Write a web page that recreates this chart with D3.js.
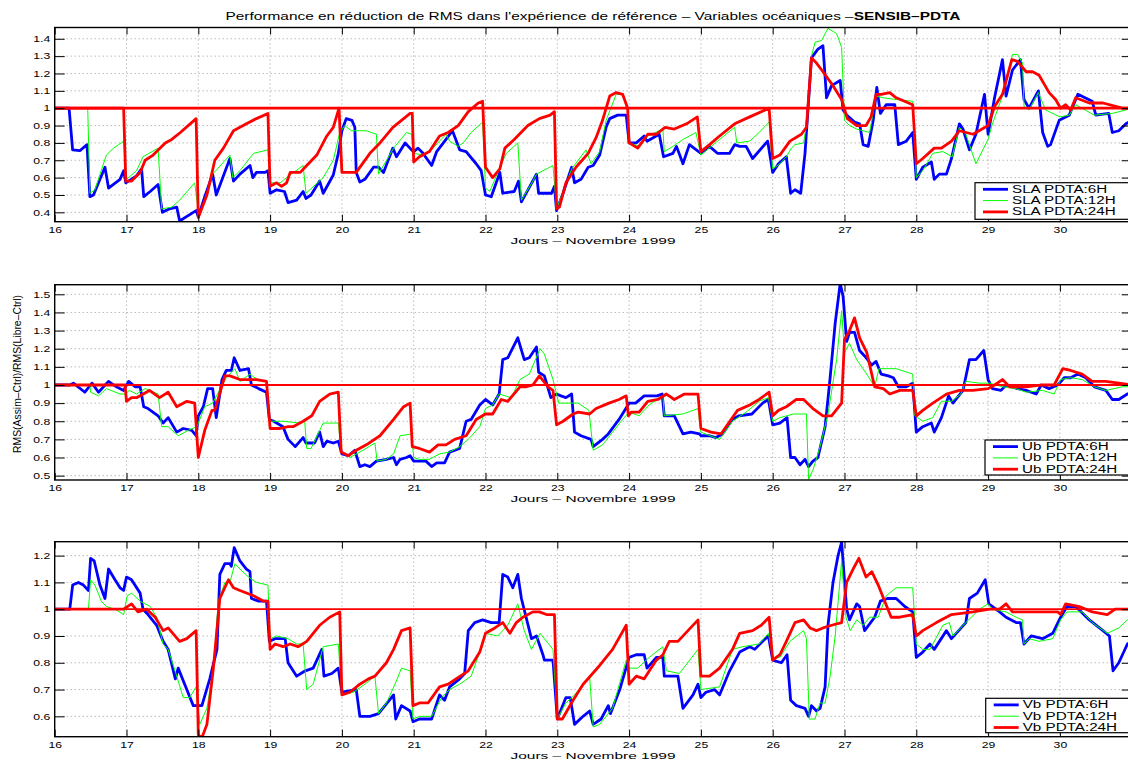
<!DOCTYPE html>
<html>
<head>
<meta charset="utf-8">
<script src="https://cdn.jsdelivr.net/npm/d3@7"></script>
<style>
  body { margin: 0; background: #fff; }
  svg { display: block; }
  text { font-family: "Liberation Sans", Arial, sans-serif; fill: #000; }
</style>
</head>
<body>
<svg id="chart"></svg>
<script>
// ---- data: [day of November 1999, RMS ratio] ----
const dayTicks = d3.range(16, 31);
const horizons = ["6H", "12H", "24H"];
const refLevel = 1;

const slaH6 = [[16,1],[16.2,1],[16.25,0.76],[16.35,0.755],[16.45,0.79],[16.49,0.49],[16.54,0.5],[16.7,0.66],[16.75,0.54],[16.91,0.59],[16.96,0.64],[16.99,0.57],[17.14,0.61],[17.21,0.65],[17.24,0.49],[17.33,0.52],[17.44,0.56],[17.5,0.4],[17.6,0.42],[17.7,0.43],[17.74,0.35],[17.93,0.4],[17.97,0.41],[18,0.375],[18.09,0.49],[18.2,0.62],[18.25,0.5],[18.44,0.71],[18.49,0.58],[18.58,0.62],[18.72,0.67],[18.76,0.6],[18.81,0.63],[18.93,0.63],[18.97,0.64],[19,0.51],[19.09,0.53],[19.2,0.52],[19.25,0.456],[19.37,0.47],[19.46,0.52],[19.5,0.48],[19.57,0.5],[19.69,0.58],[19.74,0.51],[19.88,0.615],[19.95,0.74],[20,0.87],[20.06,0.94],[20.14,0.93],[20.18,0.89],[20.2,0.63],[20.25,0.575],[20.32,0.59],[20.44,0.66],[20.51,0.66],[20.58,0.63],[20.71,0.77],[20.76,0.72],[20.88,0.8],[20.97,0.76],[21,0.75],[21.06,0.77],[21.13,0.74],[21.25,0.67],[21.32,0.75],[21.45,0.82],[21.54,0.87],[21.64,0.76],[21.73,0.75],[21.87,0.68],[21.94,0.64],[22,0.5],[22.08,0.49],[22.2,0.63],[22.24,0.51],[22.4,0.52],[22.46,0.58],[22.5,0.46],[22.71,0.62],[22.74,0.51],[22.92,0.51],[22.96,0.55],[22.99,0.41],[23.08,0.51],[23.2,0.66],[23.24,0.57],[23.33,0.59],[23.43,0.66],[23.5,0.67],[23.59,0.73],[23.68,0.89],[23.73,0.94],[23.84,0.96],[23.96,0.96],[24,0.8],[24.1,0.8],[24.21,0.84],[24.25,0.81],[24.42,0.85],[24.48,0.72],[24.61,0.74],[24.66,0.78],[24.75,0.68],[24.84,0.79],[25,0.74],[25.12,0.78],[25.23,0.74],[25.4,0.74],[25.47,0.79],[25.54,0.78],[25.63,0.78],[25.72,0.71],[25.93,0.81],[26,0.63],[26.08,0.68],[26.19,0.72],[26.25,0.51],[26.31,0.53],[26.39,0.51],[26.45,0.74],[26.54,1.29],[26.63,1.34],[26.7,1.36],[26.75,1.06],[26.82,1.13],[26.94,1.16],[26.98,0.99],[27.03,0.96],[27.14,0.92],[27.21,0.91],[27.26,0.79],[27.33,0.78],[27.4,0.93],[27.45,1.12],[27.5,0.97],[27.58,1.02],[27.7,1.02],[27.75,0.79],[27.86,0.81],[27.95,0.86],[28,0.59],[28.09,0.66],[28.21,0.69],[28.25,0.59],[28.32,0.62],[28.42,0.62],[28.49,0.71],[28.6,0.91],[28.65,0.88],[28.74,0.76],[28.83,0.85],[28.95,1.08],[29,0.85],[29.09,1.06],[29.2,1.28],[29.25,1.07],[29.34,1.22],[29.45,1.28],[29.5,1.05],[29.57,1],[29.7,1.1],[29.76,0.86],[29.83,0.78],[29.87,0.79],[29.99,0.93],[30.13,0.96],[30.25,1.08],[30.45,1.04],[30.5,0.96],[30.68,0.97],[30.73,0.86],[30.82,0.87],[30.92,0.91],[31,0.93]];
const slaH12 = [[16,1],[16.46,1],[16.49,0.51],[16.56,0.53],[16.72,0.73],[16.82,0.77],[16.96,0.81],[17,0.59],[17.14,0.64],[17.23,0.72],[17.44,0.77],[17.49,0.42],[17.63,0.43],[17.74,0.47],[17.95,0.57],[18.01,0.375],[18.2,0.62],[18.44,0.73],[18.48,0.6],[18.58,0.64],[18.77,0.74],[18.97,0.76],[19,0.57],[19.14,0.57],[19.23,0.6],[19.46,0.67],[19.5,0.51],[19.74,0.6],[19.88,0.7],[19.97,0.86],[20.04,0.9],[20.13,0.87],[20.34,0.87],[20.48,0.85],[20.51,0.62],[20.72,0.77],[20.9,0.86],[20.97,0.85],[21,0.74],[21.13,0.73],[21.27,0.77],[21.45,0.85],[21.5,0.81],[21.62,0.78],[21.69,0.8],[21.8,0.86],[21.96,0.92],[22,0.54],[22.06,0.52],[22.2,0.66],[22.29,0.74],[22.45,0.8],[22.5,0.47],[22.66,0.58],[22.71,0.62],[22.94,0.67],[22.99,0.42],[23.2,0.65],[23.4,0.76],[23.47,0.68],[23.59,0.75],[23.68,0.93],[23.82,1.08],[23.91,1.08],[23.98,1],[24,0.8],[24.15,0.78],[24.26,0.84],[24.47,0.88],[24.49,0.75],[24.61,0.78],[24.75,0.82],[24.93,0.86],[25,0.73],[25.26,0.82],[25.47,0.89],[25.5,0.8],[25.68,0.81],[25.81,0.86],[25.95,0.92],[26,0.65],[26.1,0.68],[26.19,0.72],[26.26,0.77],[26.31,0.79],[26.43,0.8],[26.47,0.9],[26.54,1.3],[26.59,1.38],[26.68,1.39],[26.77,1.46],[26.89,1.43],[26.96,1.35],[27,0.93],[27.07,0.9],[27.17,0.88],[27.26,0.87],[27.35,0.86],[27.44,1.07],[27.54,1.06],[27.72,1.05],[27.95,1.04],[28,0.6],[28.09,0.64],[28.23,0.74],[28.37,0.75],[28.5,0.72],[28.6,0.89],[28.69,0.85],[28.83,0.68],[29,0.82],[29.06,0.91],[29.2,1.07],[29.34,1.31],[29.41,1.31],[29.48,1.26],[29.5,1.01],[29.57,0.99],[29.7,1.09],[29.8,0.99],[30,0.95],[30.13,0.96],[30.22,1.02],[30.48,0.96],[30.73,0.97],[30.92,0.99],[31,1]];
const slaH24 = [[16,1],[16.96,1],[16.99,0.58],[17.07,0.58],[17.19,0.63],[17.26,0.7],[17.37,0.73],[17.54,0.8],[17.63,0.82],[17.75,0.86],[17.97,0.94],[18,0.37],[18.12,0.5],[18.23,0.7],[18.35,0.77],[18.49,0.87],[18.67,0.91],[18.81,0.94],[18.97,0.97],[19,0.55],[19.09,0.57],[19.16,0.55],[19.23,0.57],[19.28,0.63],[19.42,0.63],[19.51,0.67],[19.65,0.73],[19.79,0.84],[19.88,0.89],[19.96,1],[20,0.63],[20.07,0.63],[20.2,0.63],[20.39,0.74],[20.53,0.8],[20.71,0.89],[20.95,0.97],[20.98,0.97],[21,0.69],[21.08,0.72],[21.22,0.75],[21.36,0.84],[21.48,0.86],[21.62,0.9],[21.76,0.98],[21.9,1.03],[21.96,1.04],[22,0.66],[22.1,0.6],[22.2,0.65],[22.27,0.77],[22.4,0.82],[22.59,0.9],[22.75,0.94],[22.9,0.96],[22.96,0.98],[22.99,0.42],[23.03,0.43],[23.12,0.57],[23.26,0.66],[23.43,0.74],[23.54,0.83],[23.63,0.93],[23.73,1.07],[23.82,1.09],[23.91,1.08],[23.98,1],[24,0.8],[24.12,0.77],[24.26,0.85],[24.38,0.85],[24.5,0.89],[24.63,0.88],[24.8,0.91],[24.95,0.95],[25,0.75],[25.12,0.79],[25.26,0.84],[25.47,0.91],[25.68,0.95],[25.95,1],[26,0.71],[26.1,0.73],[26.24,0.81],[26.4,0.85],[26.47,0.89],[26.54,1.29],[26.61,1.26],[26.7,1.21],[26.84,1.13],[26.96,1.05],[27.04,0.94],[27.17,0.9],[27.3,0.9],[27.37,0.95],[27.44,1.08],[27.51,1.08],[27.63,1.09],[27.72,1.06],[27.95,1.02],[28,0.68],[28.09,0.71],[28.25,0.77],[28.35,0.77],[28.49,0.81],[28.6,0.87],[28.79,0.85],[29,0.9],[29.09,1.01],[29.2,1.08],[29.33,1.28],[29.41,1.27],[29.53,1.21],[29.62,1.21],[29.71,1.19],[29.85,1.09],[29.94,1.05],[30.01,1],[30.08,1.02],[30.15,0.99],[30.22,1.06],[30.41,1.03],[30.6,1.03],[30.87,1],[31,1]];

const ubH6 = [[16,1],[16.21,1],[16.26,1.01],[16.42,0.96],[16.52,1.01],[16.61,0.96],[16.75,1.02],[16.86,0.99],[16.96,0.97],[17.03,1.02],[17.12,0.99],[17.19,0.99],[17.24,0.88],[17.3,0.87],[17.44,0.83],[17.51,0.79],[17.58,0.82],[17.7,0.74],[17.79,0.76],[17.91,0.75],[17.97,0.72],[18,0.83],[18.07,0.88],[18.13,0.98],[18.2,0.98],[18.25,0.82],[18.33,1.03],[18.39,1.08],[18.46,1.08],[18.5,1.15],[18.58,1.08],[18.7,1.09],[18.74,1],[18.84,0.98],[18.95,0.96],[18.99,0.81],[19.05,0.8],[19.18,0.77],[19.25,0.7],[19.35,0.66],[19.46,0.71],[19.5,0.68],[19.62,0.68],[19.69,0.74],[19.74,0.66],[19.79,0.69],[19.88,0.68],[19.95,0.69],[20,0.62],[20.09,0.61],[20.18,0.64],[20.25,0.55],[20.32,0.56],[20.39,0.55],[20.48,0.58],[20.62,0.59],[20.72,0.6],[20.76,0.56],[20.81,0.59],[20.9,0.6],[20.95,0.61],[21,0.58],[21.08,0.58],[21.17,0.58],[21.25,0.55],[21.32,0.57],[21.43,0.57],[21.5,0.63],[21.64,0.65],[21.73,0.8],[21.8,0.81],[21.92,0.89],[22,0.92],[22.1,0.89],[22.19,0.95],[22.24,1.14],[22.31,1.15],[22.45,1.26],[22.54,1.14],[22.61,1.15],[22.71,1.21],[22.74,1.07],[22.82,1.05],[22.91,0.93],[22.99,0.95],[23.05,0.94],[23.12,0.93],[23.2,0.95],[23.24,0.74],[23.33,0.72],[23.47,0.7],[23.5,0.66],[23.63,0.7],[23.71,0.73],[23.86,0.81],[23.97,0.88],[24,0.9],[24.09,0.9],[24.21,0.94],[24.3,0.94],[24.39,0.94],[24.46,0.95],[24.49,0.83],[24.63,0.83],[24.75,0.73],[24.86,0.74],[24.98,0.73],[25,0.72],[25.12,0.72],[25.21,0.71],[25.3,0.73],[25.44,0.81],[25.53,0.83],[25.71,0.84],[25.86,0.9],[25.94,0.92],[26,0.78],[26.1,0.79],[26.2,0.82],[26.25,0.6],[26.31,0.6],[26.38,0.56],[26.45,0.59],[26.5,0.55],[26.56,0.58],[26.63,0.6],[26.73,0.77],[26.8,1.04],[26.87,1.34],[26.94,1.56],[26.98,1.49],[27.03,1.24],[27.07,1.29],[27.14,1.29],[27.21,1.19],[27.28,1.16],[27.38,1.11],[27.44,1.13],[27.51,1.06],[27.61,1.05],[27.68,1.04],[27.75,0.99],[27.86,0.99],[27.95,1.01],[28,0.74],[28.09,0.77],[28.21,0.79],[28.25,0.74],[28.35,0.82],[28.45,0.94],[28.51,0.9],[28.65,0.97],[28.74,1.14],[28.83,1.14],[28.94,1.19],[29,1.03],[29.06,0.98],[29.18,0.97],[29.25,1],[29.41,0.98],[29.53,0.97],[29.67,0.95],[29.74,1],[29.85,0.98],[29.97,1],[30.06,1.04],[30.15,1.04],[30.25,1.06],[30.36,1.04],[30.48,0.99],[30.64,0.97],[30.73,0.92],[30.82,0.92],[30.94,0.95],[31,0.96]];
const ubH12 = [[16,1],[16.49,1],[16.5,0.96],[16.61,0.94],[16.72,0.98],[16.91,0.95],[16.98,0.95],[17.04,0.97],[17.14,0.95],[17.26,0.98],[17.44,0.95],[17.49,0.77],[17.58,0.77],[17.72,0.72],[17.86,0.75],[17.98,0.77],[18.09,0.88],[18.2,0.9],[18.28,0.96],[18.39,1.04],[18.51,1.09],[18.58,1.02],[18.72,1.06],[18.82,1.03],[18.95,1.02],[19,0.8],[19.18,0.8],[19.41,0.79],[19.48,0.81],[19.51,0.65],[19.57,0.65],[19.74,0.79],[19.95,0.79],[19.99,0.63],[20.11,0.6],[20.25,0.63],[20.46,0.68],[20.49,0.58],[20.62,0.59],[20.72,0.62],[20.81,0.72],[20.97,0.73],[21,0.6],[21.08,0.59],[21.22,0.59],[21.36,0.62],[21.5,0.63],[21.64,0.66],[21.76,0.7],[21.92,0.77],[22,0.87],[22.1,0.89],[22.19,0.95],[22.36,0.93],[22.48,1.03],[22.61,1.06],[22.76,1.2],[22.82,1.17],[22.94,1.03],[23.02,0.9],[23.12,0.9],[23.29,0.9],[23.44,0.86],[23.5,0.64],[23.63,0.67],[23.77,0.74],[23.91,0.81],[24,0.85],[24.14,0.83],[24.28,0.89],[24.47,0.94],[24.49,0.83],[24.75,0.84],[24.96,0.87],[25,0.74],[25.26,0.7],[25.44,0.8],[25.63,0.85],[25.81,0.91],[25.94,0.93],[26,0.8],[26.1,0.82],[26.29,0.84],[26.47,0.84],[26.5,0.48],[26.56,0.53],[26.66,0.66],[26.77,0.84],[26.89,1.14],[26.96,1.41],[27,1.18],[27.07,1.23],[27.17,1.14],[27.31,1.06],[27.42,0.99],[27.48,1.09],[27.58,1.09],[27.72,1.09],[27.95,1.06],[27.98,0.83],[28.09,0.8],[28.23,0.82],[28.35,0.91],[28.49,0.91],[28.62,0.95],[28.69,1.02],[28.88,1.01],[29.02,1.01],[29.2,0.99],[29.39,0.98],[29.53,0.96],[29.76,0.97],[29.92,0.95],[30.01,1.03],[30.15,1.04],[30.31,1.03],[30.48,0.99],[30.64,0.97],[30.87,0.99],[31,0.99]];
const ubH24 = [[16,1],[16.98,1],[17,0.91],[17.07,0.93],[17.14,0.93],[17.32,0.97],[17.46,0.93],[17.58,0.96],[17.7,0.88],[17.84,0.91],[17.95,0.9],[18,0.6],[18.09,0.75],[18.19,0.86],[18.23,0.86],[18.37,1.05],[18.44,1.05],[18.58,1.03],[18.81,1.03],[18.95,1.02],[19,0.76],[19.14,0.76],[19.25,0.77],[19.32,0.77],[19.46,0.8],[19.58,0.83],[19.69,0.91],[19.83,0.95],[19.95,0.96],[19.99,0.63],[20.09,0.61],[20.2,0.64],[20.34,0.67],[20.53,0.72],[20.72,0.81],[20.86,0.88],[20.95,0.9],[20.98,0.66],[21.08,0.65],[21.22,0.63],[21.34,0.67],[21.45,0.67],[21.57,0.7],[21.73,0.72],[21.87,0.81],[22,0.84],[22.1,0.84],[22.22,0.92],[22.31,0.91],[22.48,0.99],[22.56,0.99],[22.66,1],[22.75,1.05],[22.87,0.99],[22.94,0.97],[22.99,0.78],[23.08,0.8],[23.22,0.84],[23.29,0.85],[23.45,0.84],[23.54,0.87],[23.72,0.9],[23.86,0.92],[23.96,0.94],[23.99,0.83],[24.03,0.85],[24.14,0.85],[24.26,0.91],[24.4,0.92],[24.52,0.95],[24.63,0.92],[24.77,0.95],[24.88,0.95],[24.96,0.95],[25,0.76],[25.14,0.74],[25.28,0.73],[25.42,0.81],[25.51,0.86],[25.68,0.89],[25.81,0.92],[25.95,0.96],[26,0.83],[26.08,0.86],[26.19,0.88],[26.33,0.92],[26.43,0.92],[26.56,0.87],[26.7,0.83],[26.82,0.83],[26.96,0.9],[27,1.25],[27.07,1.3],[27.14,1.37],[27.21,1.26],[27.31,1.18],[27.42,0.99],[27.54,0.98],[27.63,0.95],[27.77,0.97],[27.95,0.97],[28,0.83],[28.09,0.86],[28.23,0.9],[28.42,0.95],[28.6,0.97],[28.79,0.97],[29,0.98],[29.09,1],[29.2,1.03],[29.3,0.99],[29.53,0.99],[29.76,1],[29.92,1],[30.04,1.09],[30.15,1.08],[30.31,1.06],[30.45,1.02],[30.64,1.02],[30.82,1.01],[31,1]];

const vbH6 = [[16,1],[16.21,1],[16.25,1.09],[16.33,1.1],[16.4,1.09],[16.47,1.07],[16.5,1.19],[16.55,1.18],[16.63,1.09],[16.7,1.04],[16.75,1.15],[16.84,1.11],[16.91,1.08],[16.96,1.07],[17,1.12],[17.07,1.11],[17.19,1.06],[17.23,1],[17.3,0.98],[17.42,0.94],[17.51,0.88],[17.58,0.85],[17.68,0.74],[17.72,0.78],[17.81,0.72],[17.93,0.64],[18,0.64],[18.05,0.64],[18.16,0.74],[18.26,0.85],[18.3,1.13],[18.37,1.17],[18.44,1.17],[18.46,1.16],[18.5,1.23],[18.58,1.18],[18.67,1.15],[18.72,1.14],[18.74,1.04],[18.84,1.03],[18.95,1.03],[18.99,0.88],[19.07,0.89],[19.21,0.89],[19.25,0.8],[19.37,0.75],[19.49,0.77],[19.6,0.78],[19.72,0.85],[19.75,0.75],[19.86,0.76],[19.95,0.78],[20,0.69],[20.2,0.7],[20.25,0.6],[20.39,0.6],[20.51,0.61],[20.72,0.68],[20.75,0.59],[20.83,0.64],[20.95,0.62],[20.99,0.58],[21.08,0.59],[21.25,0.59],[21.36,0.68],[21.43,0.66],[21.5,0.71],[21.64,0.74],[21.71,0.76],[21.76,0.92],[21.85,0.95],[21.96,0.96],[22.08,0.95],[22.19,0.95],[22.24,1.13],[22.31,1.12],[22.38,1.08],[22.45,1.13],[22.5,1.04],[22.64,0.89],[22.71,0.9],[22.8,0.83],[22.82,0.81],[22.94,0.81],[23,0.59],[23.12,0.67],[23.18,0.67],[23.24,0.57],[23.36,0.6],[23.45,0.62],[23.5,0.57],[23.61,0.59],[23.71,0.64],[23.74,0.61],[23.87,0.7],[24,0.82],[24.1,0.83],[24.21,0.83],[24.25,0.78],[24.38,0.82],[24.47,0.82],[24.49,0.75],[24.68,0.75],[24.75,0.63],[24.89,0.68],[24.96,0.72],[25,0.67],[25.07,0.69],[25.19,0.7],[25.26,0.68],[25.4,0.77],[25.54,0.84],[25.68,0.86],[25.75,0.85],[25.86,0.88],[25.94,0.9],[26,0.81],[26.12,0.8],[26.2,0.83],[26.25,0.66],[26.33,0.64],[26.45,0.63],[26.5,0.6],[26.54,0.64],[26.61,0.62],[26.66,0.63],[26.73,0.71],[26.77,0.94],[26.84,1.1],[26.91,1.2],[26.96,1.25],[27.03,1],[27.07,0.96],[27.17,1.02],[27.21,1.01],[27.28,0.92],[27.42,0.97],[27.5,1.03],[27.6,1.04],[27.72,1.04],[27.84,1.01],[27.95,0.99],[28,0.82],[28.09,0.84],[28.19,0.87],[28.25,0.85],[28.42,0.92],[28.49,0.89],[28.69,0.95],[28.74,1.04],[28.85,1.06],[28.96,1.11],[29.01,1.02],[29.16,0.99],[29.25,0.97],[29.39,0.95],[29.45,0.95],[29.5,0.87],[29.6,0.9],[29.76,0.89],[29.9,0.91],[30.01,0.97],[30.1,1.01],[30.22,1.01],[30.41,0.96],[30.6,0.92],[30.69,0.9],[30.74,0.77],[30.82,0.8],[30.94,0.87],[31,0.88]];
const vbH12 = [[16,1],[16.47,1],[16.5,1.11],[16.56,1.09],[16.65,1.03],[16.72,1.01],[16.84,1],[16.96,0.98],[17.01,1.05],[17.07,1.06],[17.19,1.03],[17.33,1.01],[17.42,0.97],[17.51,0.87],[17.58,0.85],[17.7,0.75],[17.79,0.67],[17.88,0.67],[17.97,0.71],[18.02,0.57],[18.12,0.63],[18.21,0.78],[18.28,1.03],[18.37,1.1],[18.44,1.1],[18.51,1.17],[18.58,1.15],[18.7,1.12],[18.81,1.1],[18.97,1.09],[19,0.89],[19.09,0.9],[19.25,0.89],[19.37,0.87],[19.46,0.87],[19.51,0.7],[19.6,0.72],[19.74,0.86],[19.95,0.87],[20,0.68],[20.16,0.69],[20.32,0.72],[20.46,0.75],[20.51,0.61],[20.62,0.65],[20.74,0.72],[20.83,0.78],[20.95,0.77],[20.99,0.59],[21.08,0.6],[21.25,0.6],[21.39,0.67],[21.5,0.7],[21.64,0.72],[21.8,0.75],[21.96,0.87],[22,0.91],[22.17,0.9],[22.31,0.94],[22.45,1.02],[22.54,0.92],[22.64,0.85],[22.76,0.91],[22.94,0.85],[23,0.59],[23.12,0.65],[23.24,0.68],[23.45,0.75],[23.5,0.56],[23.59,0.57],[23.77,0.63],[23.96,0.81],[24,0.78],[24.12,0.78],[24.28,0.82],[24.47,0.86],[24.52,0.77],[24.7,0.76],[24.96,0.85],[25,0.7],[25.26,0.71],[25.44,0.85],[25.58,0.86],[25.81,0.87],[25.94,0.91],[26,0.82],[26.1,0.82],[26.24,0.88],[26.43,0.92],[26.47,0.89],[26.51,0.59],[26.59,0.59],[26.66,0.65],[26.73,0.65],[26.8,0.75],[26.87,0.9],[26.96,1.18],[27.02,0.97],[27.08,0.92],[27.17,0.96],[27.26,0.94],[27.35,0.97],[27.47,0.97],[27.58,1.05],[27.72,1.08],[27.95,1.08],[28,0.87],[28.09,0.85],[28.19,0.85],[28.37,0.94],[28.46,0.95],[28.51,0.9],[28.69,0.95],[28.88,1],[29,1.02],[29.06,1],[29.25,0.99],[29.39,0.97],[29.48,0.96],[29.5,0.87],[29.57,0.89],[29.71,0.88],[29.9,0.89],[30.01,0.96],[30.1,0.99],[30.31,0.99],[30.45,0.95],[30.66,0.91],[30.82,0.93],[30.94,0.96],[31,0.97]];
const vbH24 = [[16,1],[16.96,1],[17.07,1.02],[17.16,0.99],[17.28,1],[17.4,0.97],[17.51,0.92],[17.58,0.93],[17.74,0.88],[17.84,0.89],[17.97,0.92],[18,0.53],[18.05,0.52],[18.12,0.57],[18.21,0.78],[18.3,1.04],[18.42,1.11],[18.49,1.08],[18.58,1.07],[18.77,1.05],[18.91,1.03],[18.97,1.03],[19,0.85],[19.07,0.87],[19.18,0.86],[19.28,0.87],[19.39,0.86],[19.51,0.88],[19.69,0.94],[19.83,0.97],[19.97,0.99],[20,0.68],[20.11,0.69],[20.25,0.72],[20.37,0.74],[20.46,0.75],[20.62,0.8],[20.72,0.85],[20.83,0.92],[20.95,0.93],[20.99,0.64],[21.08,0.65],[21.2,0.65],[21.36,0.71],[21.48,0.72],[21.59,0.74],[21.76,0.77],[21.92,0.84],[22,0.91],[22.13,0.93],[22.24,0.95],[22.34,0.91],[22.43,0.95],[22.52,0.97],[22.66,0.99],[22.75,0.99],[22.85,0.98],[22.96,0.98],[23,0.59],[23.07,0.59],[23.22,0.66],[23.36,0.72],[23.59,0.79],[23.77,0.85],[23.96,0.94],[24,0.72],[24.1,0.75],[24.21,0.74],[24.38,0.81],[24.47,0.83],[24.56,0.88],[24.68,0.88],[24.82,0.92],[24.96,0.96],[25,0.75],[25.12,0.75],[25.26,0.78],[25.44,0.85],[25.54,0.91],[25.72,0.92],[25.84,0.94],[25.95,0.97],[26,0.81],[26.1,0.83],[26.19,0.88],[26.31,0.95],[26.43,0.96],[26.52,0.93],[26.61,0.92],[26.7,0.93],[26.82,0.94],[26.96,0.95],[27.03,1.1],[27.12,1.15],[27.2,1.19],[27.3,1.12],[27.38,1.14],[27.47,1.09],[27.56,1.03],[27.65,0.97],[27.77,0.97],[27.95,0.98],[28,0.9],[28.09,0.92],[28.28,0.95],[28.49,0.98],[28.79,0.99],[29.02,1],[29.16,1],[29.25,1.02],[29.34,0.99],[29.53,0.99],[29.76,0.99],[29.97,0.99],[30.01,0.98],[30.08,1.02],[30.27,1.01],[30.45,0.99],[30.66,0.98],[30.77,1],[31,1]];

const slaTicks = d3.range(4, 15).map(d => d / 10);
const ubTicks = d3.range(5, 16).map(d => d / 10);
const vbTicks = d3.range(6, 13).map(d => d / 10);

// ---- layout ----
const W = 1128, H = 762;
const colors = ["#0000ff", "#00ff00", "#ff0000"];
const widths = [2.8, 1, 2.8];
const stretchK = 1.42;   // the printed figure was widened: glyphs are stretched horizontally

const panels = [
  { name: "SLA", series: [slaH6, slaH12, slaH24], domain: [0.346, 1.465], ticks: slaTicks,
    top: 27.5, bottom: 221.7, refWidth: 2.8, legend: { x: 975, y: 182.7, h: 36.6 } },
  { name: "Ub", series: [ubH6, ubH12, ubH24], domain: [0.476, 1.553], ticks: ubTicks,
    top: 284.7, bottom: 480, refWidth: 1.8, legend: { x: 985, y: 440, h: 35 }, ylabel: true },
  { name: "Vb", series: [vbH6, vbH12, vbH24], domain: [0.524, 1.252], ticks: vbTicks,
    top: 541.7, bottom: 736.7, refWidth: 1.8, legend: { x: 985.7, y: 698.3, h: 34.4 } }
];

const svg = d3.select("#chart").attr("width", W).attr("height", H);

const x = d3.scaleLinear().domain([16, 31]).range([54.7, 1131.7]);
const fmt = d => String(+d.toFixed(1));

const stretch = (sel, k) => sel.each(function () {
  const len = this.getComputedTextLength();
  d3.select(this).attr("textLength", len * k).attr("lengthAdjust", "spacingAndGlyphs");
});

// title
const title = svg.append("text")
  .attr("x", 593).attr("y", 19.5)
  .attr("text-anchor", "middle")
  .style("font-size", "11px")
  .attr("textLength", 735).attr("lengthAdjust", "spacingAndGlyphs");
title.append("tspan").text("Performance en réduction de RMS dans l'expérience de référence – Variables océaniques –");
title.append("tspan").style("font-weight", "bold").text("SENSIB–PDTA");

panels.forEach((p, pi) => {
  const y = d3.scaleLinear().domain(p.domain).range([p.bottom, p.top]);
  const g = svg.append("g");

  const clipId = "clip" + pi;
  svg.append("clipPath").attr("id", clipId)
    .append("rect")
      .attr("x", x(16)).attr("y", p.top)
      .attr("width", x(31) - x(16)).attr("height", p.bottom - p.top);

  // dotted grid
  const grid = g.append("g")
    .attr("stroke", "#808080")
    .attr("stroke-width", 0.8)
    .attr("stroke-dasharray", "1,3");
  grid.selectAll("line.v")
    .data(dayTicks.filter(d => d > 16))
    .enter().append("line")
      .attr("x1", d => x(d)).attr("x2", d => x(d))
      .attr("y1", p.top).attr("y2", p.bottom);
  grid.selectAll("line.h")
    .data(p.ticks)
    .enter().append("line")
      .attr("x1", x(16)).attr("x2", x(31))
      .attr("y1", d => y(d)).attr("y2", d => y(d));

  // series
  const line = d3.line().x(d => x(d[0])).y(d => y(d[1]));
  const plot = g.append("g").attr("clip-path", "url(#" + clipId + ")");
  p.series.forEach((s, i) => {
    plot.append("path")
      .datum(s)
      .attr("fill", "none")
      .attr("stroke", colors[i])
      .attr("stroke-width", widths[i])
      .attr("stroke-linejoin", "round")
      .attr("d", line);
  });

  // reference level
  plot.append("line")
    .attr("x1", x(16)).attr("x2", x(31))
    .attr("y1", y(refLevel)).attr("y2", y(refLevel))
    .attr("stroke", "#ff0000")
    .attr("stroke-width", p.refWidth);

  // axes, ticks inward
  const axB = g.append("g")
    .attr("transform", "translate(0," + p.bottom + ")")
    .call(d3.axisBottom(x).tickValues(dayTicks).tickSizeInner(-7).tickSizeOuter(0).tickPadding(5).tickFormat(d3.format("d")));
  const axT = g.append("g")
    .attr("transform", "translate(0," + p.top + ")")
    .call(d3.axisTop(x).tickValues(dayTicks).tickSizeInner(-7).tickSizeOuter(0).tickFormat(""));
  const axL = g.append("g")
    .attr("transform", "translate(" + x(16) + ",0)")
    .call(d3.axisLeft(y).tickValues(p.ticks).tickSizeInner(-10).tickSizeOuter(0).tickPadding(4.5).tickFormat(fmt));
  const axR = g.append("g")
    .attr("transform", "translate(" + x(31) + ",0)")
    .call(d3.axisRight(y).tickValues(p.ticks).tickSizeInner(-10).tickSizeOuter(0).tickFormat(""));

  [axB, axT, axL, axR].forEach(a => {
    a.select(".domain").remove();
    a.selectAll(".tick line").attr("stroke", "#000").attr("stroke-width", 1);
    a.selectAll("text")
      .style("font-family", "'Liberation Sans', Arial, sans-serif")
      .style("font-size", "8.6px")
      .attr("fill", "#000");
  });
  stretch(axB.selectAll("text"), stretchK);
  stretch(axL.selectAll("text"), stretchK);

  // frame
  g.append("rect")
    .attr("x", x(16)).attr("y", p.top)
    .attr("width", x(31) - x(16)).attr("height", p.bottom - p.top)
    .attr("fill", "none")
    .attr("stroke", "#000")
    .attr("stroke-width", 1.4);

  // x label
  g.append("text")
    .attr("x", 593).attr("y", p.bottom + 22.4)
    .attr("text-anchor", "middle")
    .style("font-size", "9.5px")
    .attr("textLength", 165).attr("lengthAdjust", "spacingAndGlyphs")
    .text("Jours – Novembre 1999");

  if (p.ylabel) {
    g.append("text")
      .attr("transform", "translate(21," + 374 + ") rotate(-90)")
      .attr("text-anchor", "middle")
      .style("font-size", "11px")
      .attr("textLength", 158).attr("lengthAdjust", "spacingAndGlyphs")
      .text("RMS(Assim–Ctrl)/RMS(Libre–Ctrl)");
  }

  // legend
  const lg = g.append("g").attr("transform", "translate(" + p.legend.x + "," + p.legend.y + ")");
  lg.append("rect")
    .attr("width", W - p.legend.x + 10).attr("height", p.legend.h)
    .attr("fill", "#fff")
    .attr("stroke", "#000")
    .attr("stroke-width", 1.2);
  const rows = lg.selectAll("g.row")
    .data(horizons)
    .enter().append("g")
      .attr("transform", (d, i) => "translate(0," + (6.6 + i * 11.3) + ")");
  rows.append("line")
    .attr("x1", 8).attr("x2", 33)
    .attr("stroke", (d, i) => colors[i])
    .attr("stroke-width", (d, i) => widths[i]);
  const lt = rows.append("text")
    .attr("x", 37).attr("dy", "0.35em")
    .style("font-size", "10px")
    .text(d => p.name + " PDTA:" + d);
  stretch(lt, 1.52);
});
</script>
</body>
</html>
